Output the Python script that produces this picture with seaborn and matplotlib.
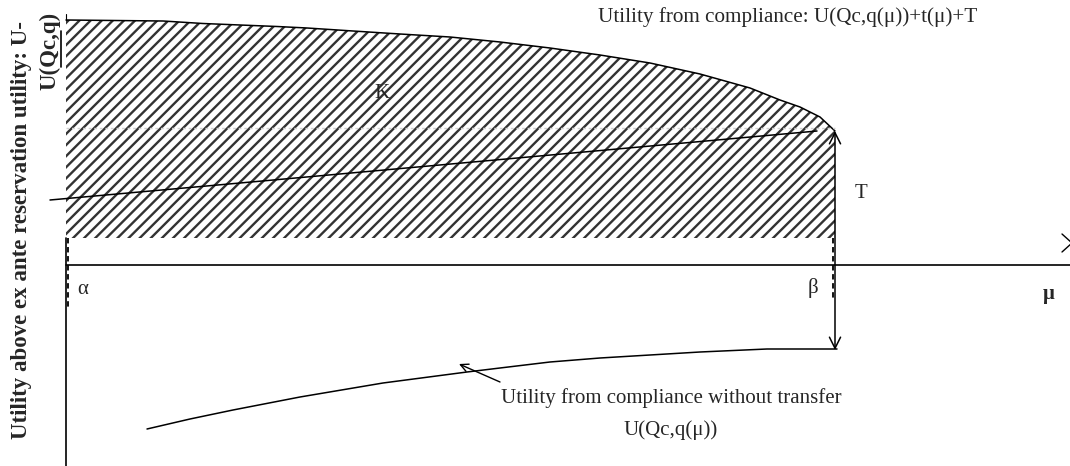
import matplotlib.pyplot as plt
import seaborn as sns
import pandas as pd
import numpy as np

# Diagram drawn in a pixel-like coordinate frame (y grows downward)
mu_top = [66, 163, 203, 240, 277, 307, 353, 400, 450, 500, 550, 600, 650, 700, 750, 780, 800, 820, 835]
u_top = [20, 21, 23.5, 25, 26.5, 28, 31, 34, 37, 42, 48, 55, 63, 74, 88, 100, 107, 117, 131]

mu_mid = [50, 240, 817]
u_mid = [200, 183, 131]

mu_low = [147, 190, 233, 300, 383, 467, 500, 550, 600, 700, 767, 837]
u_low = [429, 419, 410, 397, 383, 372, 368, 362, 358, 352, 349, 349]

hatch_floor = 238
reserve_level = 128
x_axis_level = 265
alpha_pos = 68
beta_pos = 833

sns.set_style("white")
plt.rcParams["font.family"] = ["Liberation Serif", "DejaVu Serif"]
plt.rcParams["hatch.linewidth"] = 1.7

fig = plt.figure(figsize=(10.7, 4.66), dpi=100)
ax = fig.add_axes([0, 0, 1, 1])

# hatched area K
ax.fill_between(np.array(mu_top), u_top, hatch_floor, facecolor="none", edgecolor="#333333",
                hatch="///", linewidth=0)

top = pd.DataFrame({"mu": mu_top, "u": u_top})
mid = pd.DataFrame({"mu": mu_mid, "u": u_mid})
low = pd.DataFrame({"mu": mu_low, "u": u_low})
for d in (top, mid, low):
    sns.lineplot(data=d, x="mu", y="u", color="black", linewidth=1.1, ax=ax, estimator=None, sort=False)

ax.set_xlim(0, 1070)
ax.set_ylim(466, 0)
ax.axis("off")

# reservation level (light dashed)
ax.plot([66, 835], [reserve_level, reserve_level], color="#d0d0d0", linestyle=(0, (2, 2)), linewidth=1)

# axes
ax.plot([66, 1070], [x_axis_level, x_axis_level], color="black", linewidth=1.2)
ax.plot([66, 66], [hatch_floor, 466], color="black", linewidth=1.2)
ax.plot([66, 66], [14, 20], color="black", linewidth=0.8)
ax.plot([1062, 1072, 1062], [234, 243, 252], color="black", linewidth=1)

# alpha / beta dashed markers
ax.plot([alpha_pos, alpha_pos], [hatch_floor, 310], color="black", linestyle=(0, (3, 2)), linewidth=1.3)
ax.plot([beta_pos, beta_pos], [hatch_floor, 300], color="black", linestyle=(0, (3, 2)), linewidth=1.3)

# transfer T double arrow
ax.annotate("", xy=(835, 350), xytext=(835, 131),
            arrowprops=dict(arrowstyle="<->", color="black", lw=1.1, mutation_scale=20,
                            shrinkA=0, shrinkB=0))

# pointer to lower curve
ax.annotate("", xy=(459, 364), xytext=(500, 382),
            arrowprops=dict(arrowstyle="->", color="black", lw=1, mutation_scale=14,
                            shrinkA=0, shrinkB=0))

# labels
ax.text(598, 17, "Utility from compliance: U(Qc,q(\u03bc))+t(\u03bc)+T", fontsize=15.2, va="center", ha="left")
ax.text(382, 93, "K", fontsize=15, va="center", ha="center")
ax.text(855, 193, "T", fontsize=15, va="center", ha="left")
ax.text(77, 289, "\u03b1", fontsize=15, va="center", ha="left")
ax.text(808, 288, "\u03b2", fontsize=15, va="center", ha="left")
ax.text(1049, 294, "\u03bc", fontsize=15, fontweight="bold", va="center", ha="center")
ax.text(671, 398, "Utility from compliance without transfer", fontsize=15, va="center", ha="center")
ax.text(671, 430, "U(Qc,q(\u03bc))", fontsize=15, va="center", ha="center")

ax.text(22, 230, "Utility above ex ante reservation utility: U-", fontsize=16.5, fontweight="bold",
        rotation=90, va="center", ha="center")
ax.text(50, 51, "U(Qc,q)", fontsize=16.5, fontweight="bold", rotation=90, va="center", ha="center")
ax.plot([61, 61], [31, 67], color="black", linewidth=1.2)

fig.savefig("out.png", dpi=100)
